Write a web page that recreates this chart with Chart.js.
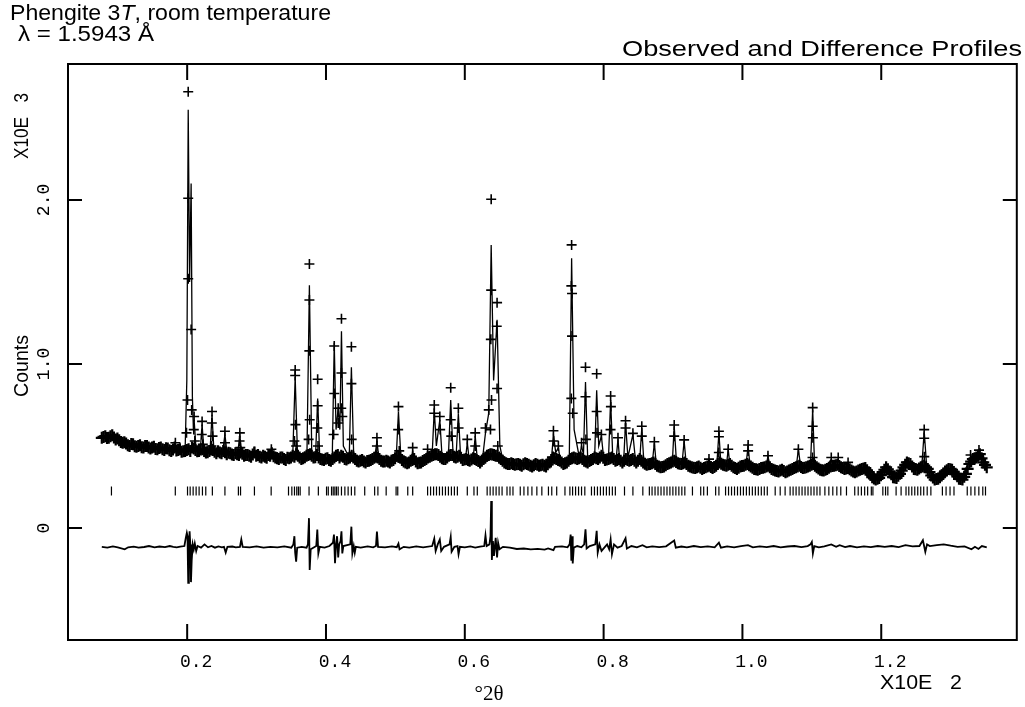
<!DOCTYPE html>
<html>
<head>
<meta charset="utf-8">
<script src="https://cdn.jsdelivr.net/npm/chart.js@4.4.0/dist/chart.umd.min.js"></script>
<style>
  html, body { margin: 0; padding: 0; background: #fff; }
  #wrap { width: 1025px; height: 707px; }
</style>
</head>
<body>
<div id="wrap"><canvas id="myChart" width="1025" height="707"></canvas></div>
<script>
// x in 10^2 deg 2theta, y in 10^3 counts
const xTicks = [0.2, 0.4, 0.6, 0.8, 1.0, 1.2];
const xTickLabels = ['0.2', '0.4', '0.6', '0.8', '1.0', '1.2'];
const yTicks = [0, 1, 2];
const yTickLabels = ['0', '1.0', '2.0'];

// observed points, background band
const observedBackground = [
  [0.077,0.55],[0.082,0.56],[0.087,0.55],[0.092,0.565],[0.097,0.54],[0.102,0.535],[0.107,0.52],[0.112,0.515],
  [0.117,0.50],[0.122,0.51],[0.127,0.495],[0.132,0.505],[0.137,0.49],[0.142,0.50],[0.147,0.485],[0.152,0.495],
  [0.157,0.48],[0.162,0.49],[0.167,0.475],[0.172,0.485],[0.177,0.47],[0.182,0.49],[0.187,0.475],[0.192,0.465],
  [0.197,0.47],[0.202,0.48],[0.207,0.49],[0.212,0.475],[0.217,0.47],[0.222,0.48],[0.227,0.46],[0.232,0.47],
  [0.237,0.475],[0.242,0.455],[0.247,0.46],[0.252,0.47],[0.257,0.45],[0.262,0.455],[0.267,0.445],[0.272,0.45],
  [0.277,0.46],[0.282,0.44],[0.287,0.445],[0.292,0.435],[0.297,0.46],[0.302,0.445],[0.307,0.43],[0.312,0.435],
  [0.317,0.445],[0.322,0.455],[0.327,0.43],[0.332,0.42],[0.337,0.43],[0.342,0.415],[0.347,0.425],[0.352,0.44],
  [0.357,0.45],[0.362,0.43],[0.367,0.425],[0.372,0.44],[0.377,0.45],[0.382,0.43],[0.387,0.445],[0.392,0.42],
  [0.397,0.415],[0.402,0.425],[0.407,0.41],[0.412,0.43],[0.417,0.445],[0.422,0.44],[0.427,0.42],[0.432,0.425],
  [0.437,0.44],[0.442,0.42],[0.447,0.405],[0.452,0.415],[0.457,0.40],[0.462,0.41],[0.467,0.42],[0.472,0.435],
  [0.477,0.42],[0.482,0.405],[0.487,0.41],[0.492,0.40],[0.497,0.415],[0.502,0.44],[0.507,0.43],[0.512,0.405],
  [0.517,0.395],[0.522,0.41],[0.527,0.42],[0.532,0.395],[0.537,0.40],[0.542,0.415],[0.547,0.43],[0.552,0.44],
  [0.557,0.45],[0.562,0.445],[0.567,0.425],[0.572,0.42],[0.577,0.44],[0.582,0.445],[0.587,0.43],[0.592,0.44],
  [0.597,0.415],[0.602,0.42],[0.607,0.41],[0.612,0.425],[0.617,0.415],[0.622,0.40],[0.627,0.42],[0.632,0.44],
  [0.637,0.45],[0.642,0.445],[0.647,0.44],[0.652,0.42],[0.657,0.40],[0.662,0.39],[0.667,0.395],[0.672,0.385],
  [0.677,0.39],[0.682,0.38],[0.687,0.395],[0.692,0.385],[0.697,0.375],[0.702,0.39],[0.707,0.38],[0.712,0.385],
  [0.717,0.375],[0.722,0.40],[0.727,0.43],[0.732,0.42],[0.737,0.41],[0.742,0.39],[0.747,0.40],[0.752,0.42],
  [0.757,0.43],[0.762,0.42],[0.767,0.43],[0.772,0.41],[0.777,0.40],[0.782,0.415],[0.787,0.43],[0.792,0.42],
  [0.797,0.44],[0.802,0.415],[0.807,0.42],[0.812,0.43],[0.817,0.41],[0.822,0.42],[0.827,0.40],[0.832,0.42],
  [0.837,0.41],[0.842,0.42],[0.847,0.40],[0.852,0.42],[0.857,0.40],[0.862,0.385],[0.867,0.39],[0.872,0.40],
  [0.877,0.38],[0.882,0.37],[0.887,0.375],[0.892,0.39],[0.897,0.40],[0.902,0.41],[0.907,0.395],[0.912,0.39],
  [0.917,0.40],[0.922,0.38],[0.927,0.37],[0.932,0.365],[0.937,0.375],[0.942,0.36],[0.947,0.37],[0.952,0.38],
  [0.957,0.365],[0.962,0.38],[0.967,0.40],[0.972,0.385],[0.977,0.38],[0.982,0.39],[0.987,0.37],[0.992,0.36],
  [0.997,0.375],[1.002,0.38],[1.007,0.39],[1.012,0.375],[1.017,0.36],[1.022,0.355],[1.027,0.365],[1.032,0.37],
  [1.037,0.38],[1.042,0.36],[1.047,0.35],[1.052,0.345],[1.057,0.355],[1.062,0.34],[1.067,0.35],[1.072,0.36],
  [1.077,0.37],[1.082,0.38],[1.087,0.365],[1.092,0.37],[1.097,0.38],[1.102,0.39],[1.107,0.37],[1.112,0.355],
  [1.117,0.35],[1.122,0.36],[1.127,0.375],[1.132,0.38],[1.137,0.385],[1.142,0.37],[1.147,0.36],[1.152,0.365],
  [1.157,0.35],[1.162,0.34],[1.167,0.35],[1.172,0.36],[1.177,0.365],[1.182,0.34],[1.187,0.31],[1.192,0.295],
  [1.197,0.305],[1.202,0.34],[1.207,0.37],[1.212,0.345],[1.217,0.31],[1.222,0.305],[1.227,0.33],[1.232,0.37],
  [1.237,0.40],[1.242,0.39],[1.247,0.36],[1.252,0.355],[1.257,0.37],[1.262,0.38],[1.267,0.36],[1.272,0.32],
  [1.277,0.295],[1.282,0.30],[1.287,0.32],[1.292,0.345],[1.297,0.36],[1.302,0.355],[1.307,0.33],[1.312,0.30],
  [1.317,0.295],[1.322,0.33],[1.327,0.39],[1.332,0.42],[1.337,0.43],[1.342,0.45],[1.347,0.40],[1.352,0.37]
];

// observed points in between, the band is dense
const observedBackground2 = [
  [0.0795,0.555],[0.0845,0.548],[0.0895,0.56],[0.0945,0.552],[0.0995,0.545],[0.1045,0.525],[0.1095,0.522],[0.1145,0.505],
  [0.1195,0.512],[0.1245,0.498],[0.1295,0.50],[0.1345,0.492],[0.1395,0.50],[0.1445,0.49],[0.1495,0.49],[0.1545,0.482],
  [0.1595,0.488],[0.1645,0.48],[0.1695,0.486],[0.1745,0.474],[0.1795,0.478],[0.1845,0.472],[0.1895,0.48],[0.1945,0.468],
  [0.1995,0.475],[0.2045,0.47],[0.2095,0.485],[0.2145,0.468],[0.2195,0.478],[0.2245,0.47],[0.2295,0.462],[0.2345,0.478],
  [0.2395,0.465],[0.2445,0.468],[0.2495,0.455],[0.2545,0.462],[0.2595,0.458],[0.2645,0.448],[0.2695,0.455],[0.2745,0.445],
  [0.2795,0.452],[0.2845,0.445],[0.2895,0.44],[0.2945,0.448],[0.2995,0.44],[0.3045,0.435],[0.3095,0.44],[0.3145,0.428],
  [0.3195,0.44],[0.3245,0.438],[0.3295,0.425],[0.3345,0.43],[0.3395,0.42],[0.3445,0.428],[0.3495,0.43],[0.3545,0.435],
  [0.3595,0.44],[0.3645,0.42],[0.3695,0.432],[0.3745,0.445],[0.3795,0.44],[0.3845,0.432],[0.3895,0.43],[0.3945,0.418],
  [0.3995,0.422],[0.4045,0.415],[0.4095,0.42],[0.4145,0.44],[0.4195,0.43],[0.4245,0.435],[0.4295,0.418],[0.4345,0.43],
  [0.4395,0.43],[0.4445,0.41],[0.4495,0.41],[0.4545,0.405],[0.4595,0.408],[0.4645,0.415],[0.4695,0.428],[0.4745,0.43],
  [0.4795,0.41],[0.4845,0.405],[0.4895,0.405],[0.4945,0.41],[0.4995,0.425],[0.5045,0.435],[0.5095,0.415],[0.5145,0.40],
  [0.5195,0.40],[0.5245,0.415],[0.5295,0.405],[0.5345,0.398],[0.5395,0.408],[0.5445,0.42],[0.5495,0.435],[0.5545,0.445],
  [0.5595,0.45],[0.5645,0.435],[0.5695,0.42],[0.5745,0.43],[0.5795,0.445],[0.5845,0.435],[0.5895,0.435],[0.5945,0.428],
  [0.5995,0.418],[0.6045,0.415],[0.6095,0.418],[0.6145,0.42],[0.6195,0.408],[0.6245,0.41],[0.6295,0.43],[0.6345,0.445],
  [0.6395,0.448],[0.6445,0.44],[0.6495,0.43],[0.6545,0.41],[0.6595,0.395],[0.6645,0.39],[0.6695,0.39],[0.6745,0.388],
  [0.6795,0.385],[0.6845,0.388],[0.6895,0.39],[0.6945,0.38],[0.6995,0.382],[0.7045,0.385],[0.7095,0.382],[0.7145,0.38],
  [0.7195,0.388],[0.7245,0.415],[0.7295,0.425],[0.7345,0.415],[0.7395,0.40],[0.7445,0.395],[0.7495,0.41],[0.7545,0.425],
  [0.7595,0.425],[0.7645,0.425],[0.7695,0.42],[0.7745,0.405],[0.7795,0.408],[0.7845,0.42],[0.7895,0.425],[0.7945,0.43],
  [0.7995,0.428],[0.8045,0.418],[0.8095,0.425],[0.8145,0.42],[0.8195,0.415],[0.8245,0.41],[0.8295,0.41],[0.8345,0.415],
  [0.8395,0.415],[0.8445,0.41],[0.8495,0.41],[0.8545,0.41],[0.8595,0.392],[0.8645,0.388],[0.8695,0.395],[0.8745,0.39],
  [0.8795,0.375],[0.8845,0.372],[0.8895,0.382],[0.8945,0.395],[0.8995,0.405],[0.9045,0.402],[0.9095,0.392],[0.9145,0.395],
  [0.9195,0.39],[0.9245,0.375],[0.9295,0.368],[0.9345,0.37],[0.9395,0.368],[0.9445,0.365],[0.9495,0.375],[0.9545,0.372],
  [0.9595,0.372],[0.9645,0.39],[0.9695,0.392],[0.9745,0.382],[0.9795,0.385],[0.9845,0.38],[0.9895,0.365],[0.9945,0.368],
  [0.9995,0.378],[1.0045,0.385],[1.0095,0.382],[1.0145,0.368],[1.0195,0.358],[1.0245,0.36],[1.0295,0.368],[1.0345,0.375],
  [1.0395,0.37],[1.0445,0.355],[1.0495,0.348],[1.0545,0.35],[1.0595,0.348],[1.0645,0.345],[1.0695,0.355],[1.0745,0.365],
  [1.0795,0.375],[1.0845,0.372],[1.0895,0.368],[1.0945,0.375],[1.0995,0.385],[1.1045,0.38],[1.1095,0.362],[1.1145,0.352],
  [1.1195,0.355],[1.1245,0.368],[1.1295,0.378],[1.1345,0.382],[1.1395,0.378],[1.1445,0.365],[1.1495,0.362],[1.1545,0.358],
  [1.1595,0.345],[1.1645,0.345],[1.1695,0.355],[1.1745,0.362],[1.1795,0.352],[1.1845,0.325],[1.1895,0.302],[1.1945,0.30],
  [1.1995,0.322],[1.2045,0.355],[1.2095,0.358],[1.2145,0.328],[1.2195,0.308],[1.2245,0.318],[1.2295,0.35],[1.2345,0.385],
  [1.2395,0.395],[1.2445,0.375],[1.2495,0.358],[1.2545,0.362],[1.2595,0.375],[1.2645,0.37],[1.2695,0.34],[1.2745,0.308],
  [1.2795,0.298],[1.2845,0.31],[1.2895,0.332],[1.2945,0.352],[1.2995,0.358],[1.3045,0.342],[1.3095,0.315],[1.3145,0.298],
  [1.3195,0.312],[1.3245,0.36],[1.3295,0.405],[1.3345,0.425],[1.3395,0.44],[1.3445,0.425],[1.3495,0.385]
];

// observed points on the peaks
const observedPeaks = [
  [0.183,0.52],
  [0.2015,2.66],[0.2015,2.01],[0.2015,1.52],[0.2057,1.21],[0.2005,0.78],[0.2065,0.72],[0.199,0.58],
  [0.210,0.68],[0.2095,0.60],[0.211,0.53],
  [0.2215,0.65],[0.221,0.57],[0.2225,0.51],
  [0.2358,0.71],[0.2355,0.64],[0.2365,0.56],[0.235,0.50],
  [0.2544,0.59],[0.2545,0.52],
  [0.2759,0.58],[0.2755,0.53],[0.2765,0.49],
  [0.2966,0.465],[0.3213,0.48],
  [0.3556,0.963],[0.3556,0.93],[0.356,0.63],[0.3545,0.53],[0.357,0.50],
  [0.3761,1.61],[0.3761,1.39],[0.376,1.08],[0.3765,0.66],[0.375,0.54],
  [0.388,0.907],[0.388,0.745],[0.3875,0.61],[0.3885,0.50],
  [0.4119,1.11],[0.412,0.82],[0.411,0.57],
  [0.4176,0.73],[0.4176,0.64],
  [0.4223,1.276],[0.4223,0.945],[0.422,0.73],[0.4235,0.68],
  [0.4366,1.105],[0.4366,0.88],[0.437,0.54],
  [0.4734,0.55],[0.4734,0.50],
  [0.5044,0.74],[0.504,0.60],[0.5055,0.47],
  [0.5249,0.49],[0.5464,0.48],
  [0.556,0.75],[0.556,0.70],
  [0.564,0.68],[0.5645,0.60],
  [0.5797,0.855],[0.5797,0.66],[0.5805,0.56],
  [0.5907,0.73],[0.591,0.61],
  [0.6036,0.54],
  [0.615,0.58],[0.615,0.50],
  [0.6298,0.61],[0.6345,0.72],
  [0.638,2.004],[0.638,1.45],[0.6375,1.15],[0.6385,0.78],[0.637,0.60],
  [0.6465,1.374],[0.646,1.23],[0.6465,0.85],[0.6475,0.50],
  [0.7277,0.593],[0.728,0.53],
  [0.7348,0.50],
  [0.7539,1.726],[0.7535,1.476],[0.7545,1.43],[0.7545,1.17],[0.7535,0.79],[0.7555,0.70],
  [0.7682,0.52],
  [0.7739,0.98],[0.7739,0.80],[0.7745,0.54],
  [0.790,0.94],[0.790,0.71],[0.7905,0.58],
  [0.7968,0.57],
  [0.8101,0.805],[0.8105,0.74],[0.810,0.60],
  [0.8207,0.55],
  [0.8316,0.654],[0.8316,0.61],
  [0.8422,0.577],
  [0.855,0.62],[0.855,0.56],
  [0.8731,0.526],
  [0.9017,0.628],[0.9017,0.56],
  [0.916,0.537],
  [0.9518,0.42],
  [0.9661,0.59],[0.9661,0.556],[0.966,0.46],
  [0.9795,0.48],
  [1.0082,0.506],[1.0082,0.47],
  [1.0368,0.44],
  [1.0806,0.48],
  [1.1012,0.734],[1.1012,0.62],[1.1015,0.55],[1.101,0.43],
  [1.128,0.43],[1.138,0.43],
  [1.1522,0.40],
  [1.176,0.366],
  [1.2619,0.60],[1.2619,0.547],[1.262,0.435],
  [1.3287,0.445],
  [1.3408,0.475],[1.3408,0.44]
];

// calculated profile
const calculated = [
  [0.077,0.55],[0.09,0.555],[0.11,0.515],[0.14,0.495],[0.17,0.48],[0.180,0.478],[0.183,0.51],[0.186,0.475],
  [0.197,0.47],[0.1995,0.9],[0.2015,2.55],[0.2035,1.5],[0.2057,2.1],[0.2075,0.8],[0.209,0.6],[0.210,0.66],
  [0.2125,0.5],[0.219,0.48],[0.2215,0.63],[0.224,0.48],[0.233,0.47],[0.2358,0.69],[0.2385,0.47],[0.251,0.46],
  [0.2544,0.57],[0.2575,0.455],[0.2725,0.45],[0.2759,0.56],[0.279,0.445],[0.294,0.44],[0.2966,0.46],[0.299,0.44],
  [0.318,0.435],[0.3213,0.47],[0.324,0.43],[0.352,0.425],[0.3556,0.92],[0.359,0.44],[0.3725,0.43],[0.3761,1.48],
  [0.3795,0.45],[0.385,0.44],[0.388,0.79],[0.391,0.43],[0.409,0.42],[0.4119,1.13],[0.4145,0.6],[0.4176,0.73],
  [0.420,0.6],[0.4223,1.2],[0.425,0.5],[0.4335,0.43],[0.4366,0.98],[0.44,0.43],[0.470,0.42],[0.4734,0.53],
  [0.4765,0.415],[0.501,0.41],[0.5044,0.71],[0.508,0.42],[0.522,0.40],[0.5249,0.47],[0.528,0.40],[0.543,0.41],
  [0.5464,0.47],[0.549,0.44],[0.553,0.45],[0.556,0.72],[0.559,0.5],[0.564,0.66],[0.567,0.45],[0.5765,0.45],
  [0.5797,0.78],[0.583,0.46],[0.5875,0.44],[0.5907,0.70],[0.594,0.43],[0.601,0.42],[0.6036,0.52],[0.6065,0.41],
  [0.612,0.42],[0.615,0.56],[0.618,0.42],[0.626,0.44],[0.6298,0.58],[0.6345,0.7],[0.638,1.726],[0.6415,0.9],
  [0.6465,1.27],[0.6505,0.5],[0.655,0.41],[0.67,0.39],[0.70,0.385],[0.7245,0.40],[0.7277,0.57],[0.731,0.46],
  [0.7348,0.49],[0.738,0.40],[0.7505,0.41],[0.7539,1.645],[0.7575,0.6],[0.765,0.43],[0.7682,0.5],[0.771,0.45],
  [0.7739,0.89],[0.777,0.43],[0.787,0.42],[0.790,0.84],[0.793,0.5],[0.7968,0.56],[0.800,0.43],[0.807,0.42],
  [0.8101,0.78],[0.813,0.45],[0.818,0.42],[0.8207,0.54],[0.823,0.42],[0.829,0.42],[0.8316,0.64],[0.835,0.43],
  [0.8422,0.57],[0.846,0.41],[0.852,0.41],[0.855,0.61],[0.858,0.40],[0.870,0.39],[0.8731,0.52],[0.876,0.38],
  [0.899,0.40],[0.9017,0.62],[0.905,0.40],[0.913,0.395],[0.916,0.53],[0.919,0.39],[0.9485,0.37],[0.9518,0.42],
  [0.955,0.37],[0.963,0.38],[0.9661,0.58],[0.969,0.39],[0.977,0.385],[0.9795,0.48],[0.982,0.38],[1.005,0.38],
  [1.0082,0.50],[1.011,0.375],[1.034,0.37],[1.0368,0.44],[1.04,0.36],[1.06,0.345],[1.0775,0.37],[1.0806,0.48],
  [1.084,0.37],[1.098,0.38],[1.1012,0.72],[1.104,0.38],[1.12,0.36],[1.128,0.42],[1.133,0.39],[1.138,0.42],
  [1.142,0.37],[1.1522,0.40],[1.156,0.35],[1.176,0.365],[1.19,0.30],[1.2073,0.37],[1.22,0.305],[1.238,0.40],
  [1.2585,0.38],[1.2619,0.59],[1.2655,0.37],[1.279,0.295],[1.30,0.36],[1.315,0.295],[1.3287,0.43],[1.334,0.40],
  [1.3408,0.46],[1.352,0.37]
];

// reflection marker positions
const reflections = [
  0.0909,0.1829,0.2005,0.2043,0.2086,0.2129,0.2172,0.222,0.2268,0.2363,0.2544,0.2738,0.2769,0.2969,0.321,
  0.346,0.3508,0.3546,0.3579,0.3603,0.3628,0.3756,0.389,0.4008,0.4033,0.408,0.4104,0.4128,0.4151,0.4176,
  0.4223,0.4272,0.4319,0.4366,0.4415,0.4558,0.4701,0.4748,0.4867,0.501,0.5034,0.5178,0.5249,
  0.5464,0.5507,0.555,0.5592,0.5635,0.5678,0.5721,0.5764,0.5807,0.585,0.5893,0.6036,0.6132,
  0.618,0.6322,0.6365,0.6408,0.6451,0.6494,0.6537,0.6608,0.6651,0.6694,0.6799,0.6852,0.6909,0.6967,0.7038,
  0.711,0.7205,0.7253,0.7324,0.7443,0.7514,0.7553,0.7596,0.7639,0.7682,0.7729,0.7825,0.7868,0.7911,0.7954,
  0.7997,0.804,0.8083,0.8126,0.8169,0.8301,0.8422,0.8565,0.8659,0.8698,0.8741,0.8784,0.8827,0.887,0.8913,
  0.8955,0.8998,0.9041,0.9084,0.9127,0.917,0.928,0.9399,0.9442,0.9495,0.9614,0.9661,0.9757,0.98,0.9843,
  0.9886,0.9929,0.9972,1.0014,1.0057,1.01,1.0143,1.0186,1.0229,1.0272,1.0315,1.0358,1.0472,1.0544,1.0615,
  1.0687,1.073,1.0773,1.0816,1.0859,1.0902,1.0945,1.0988,1.1031,1.1074,1.1117,1.1188,1.1245,1.1302,1.136,
  1.1417,1.1499,1.1618,1.1668,1.1714,1.1761,1.1804,1.1857,1.188,1.2023,1.2062,1.2095,1.2214,1.2286,1.2357,
  1.2397,1.244,1.2483,1.2526,1.2569,1.2612,1.2662,1.2715,1.2881,1.2934,1.2991,1.3048,1.3239,1.3292,1.3349,
  1.3406,1.3463,1.3502
];
const reflectionLevel = 0.226;

// observed minus calculated, drawn with an offset
const difference = [
  [0.077,-0.115],[0.085,-0.12],[0.093,-0.112],[0.1,-0.118],[0.11,-0.13],[0.115,-0.118],[0.123,-0.114],[0.13,-0.12],
  [0.138,-0.116],[0.145,-0.11],[0.153,-0.118],[0.16,-0.113],[0.168,-0.117],[0.175,-0.11],[0.18,-0.115],[0.185,-0.118],
  [0.19,-0.114],[0.196,-0.11],[0.198,-0.06],[0.1995,-0.03],[0.2005,-0.05],[0.201,-0.2],[0.2015,-0.335],[0.2025,-0.12],
  [0.2035,-0.02],[0.2045,-0.1],[0.2055,-0.33],[0.2065,-0.2],[0.208,-0.1],[0.2095,-0.13],[0.211,-0.095],[0.213,-0.14],
  [0.215,-0.11],[0.22,-0.12],[0.225,-0.1],[0.23,-0.118],[0.235,-0.11],[0.24,-0.12],[0.245,-0.112],[0.25,-0.118],
  [0.253,-0.115],[0.2555,-0.15],[0.258,-0.115],[0.265,-0.113],[0.27,-0.118],[0.276,-0.115],[0.278,-0.07],[0.28,-0.115],
  [0.29,-0.118],[0.3,-0.112],[0.31,-0.12],[0.32,-0.115],[0.33,-0.118],[0.34,-0.112],[0.35,-0.12],
  [0.353,-0.1],[0.3545,-0.05],[0.3556,-0.15],[0.357,-0.205],[0.3585,-0.12],[0.365,-0.115],[0.372,-0.12],
  [0.374,-0.1],[0.3755,0.06],[0.3765,-0.256],[0.378,-0.13],[0.386,-0.11],[0.3875,-0.01],[0.389,-0.155],[0.391,-0.115],
  [0.398,-0.12],[0.405,-0.11],[0.41,-0.09],[0.4115,-0.04],[0.413,-0.215],[0.4145,-0.1],[0.416,-0.05],[0.4176,-0.18],
  [0.419,-0.1],[0.421,-0.08],[0.4223,-0.02],[0.4235,-0.155],[0.425,-0.11],[0.435,-0.1],[0.4366,0.008],[0.438,-0.155],
  [0.44,-0.11],[0.4415,-0.15],[0.443,-0.115],[0.45,-0.12],[0.46,-0.112],[0.468,-0.118],[0.472,-0.11],[0.4734,-0.022],
  [0.475,-0.115],[0.485,-0.118],[0.495,-0.112],[0.502,-0.117],[0.5044,-0.095],[0.506,-0.13],[0.512,-0.115],[0.52,-0.12],
  [0.53,-0.112],[0.54,-0.118],[0.553,-0.11],[0.556,-0.065],[0.558,-0.14],[0.561,-0.1],[0.564,-0.07],[0.566,-0.14],
  [0.57,-0.115],[0.578,-0.1],[0.5797,-0.055],[0.581,-0.145],[0.585,-0.115],[0.5895,-0.11],[0.591,-0.16],[0.593,-0.115],
  [0.6,-0.118],[0.608,-0.112],[0.615,-0.12],[0.622,-0.113],[0.628,-0.11],[0.6298,-0.045],[0.6315,-0.11],
  [0.6355,-0.1],[0.637,-0.05],[0.638,0.165],[0.639,-0.195],[0.6405,-0.08],[0.642,-0.17],[0.6445,-0.06],[0.6465,-0.18],
  [0.648,-0.09],[0.65,-0.13],[0.655,-0.115],[0.665,-0.12],[0.675,-0.128],[0.685,-0.125],[0.695,-0.13],[0.705,-0.127],
  [0.715,-0.132],[0.72,-0.125],[0.7277,-0.135],[0.73,-0.115],[0.74,-0.112],[0.748,-0.118],
  [0.751,-0.1],[0.7525,-0.04],[0.7535,-0.2],[0.7545,-0.05],[0.7555,-0.216],[0.757,-0.12],[0.762,-0.11],[0.768,-0.118],
  [0.772,-0.1],[0.7739,-0.008],[0.7755,-0.125],[0.78,-0.11],[0.788,-0.1],[0.790,-0.017],[0.7915,-0.15],[0.794,-0.1],
  [0.797,-0.14],[0.805,-0.1],[0.808,-0.13],[0.8101,-0.07],[0.812,-0.16],[0.815,-0.1],[0.82,-0.12],[0.826,-0.11],
  [0.8316,-0.063],[0.8335,-0.125],[0.84,-0.11],[0.848,-0.118],[0.856,-0.105],[0.862,-0.118],[0.87,-0.112],[0.88,-0.117],
  [0.89,-0.112],[0.9017,-0.077],[0.904,-0.12],[0.912,-0.113],[0.92,-0.118],[0.93,-0.11],[0.94,-0.117],[0.95,-0.112],
  [0.96,-0.118],[0.9661,-0.09],[0.969,-0.12],[0.978,-0.112],[0.988,-0.118],[0.998,-0.11],[1.008,-0.105],[1.015,-0.118],
  [1.025,-0.112],[1.035,-0.117],[1.045,-0.11],[1.055,-0.118],[1.065,-0.113],[1.075,-0.11],[1.085,-0.117],[1.094,-0.11],
  [1.098,-0.1],[1.1,-0.085],[1.1015,-0.155],[1.1035,-0.11],[1.11,-0.118],[1.118,-0.112],[1.128,-0.1],[1.135,-0.115],
  [1.14,-0.105],[1.148,-0.117],[1.155,-0.11],[1.165,-0.118],[1.175,-0.112],[1.185,-0.117],[1.195,-0.11],[1.205,-0.115],
  [1.215,-0.11],[1.225,-0.117],[1.235,-0.105],[1.245,-0.112],[1.255,-0.11],[1.26,-0.075],[1.2635,-0.145],[1.266,-0.1],
  [1.27,-0.11],[1.28,-0.105],[1.29,-0.1],[1.3,-0.108],[1.31,-0.115],[1.32,-0.112],[1.33,-0.13],[1.335,-0.115],
  [1.34,-0.128],[1.345,-0.11],[1.352,-0.118]
];

function fitText(c, text, x, y, width, font, align) {
  c.font = font;
  const k = width / c.measureText(text).width;
  c.save();
  c.translate(x, y);
  c.scale(k, 1);
  c.textAlign = align;
  c.fillText(text, 0, 0);
  c.restore();
}

const frame = {
  id: 'frame',
  afterDraw(chart) {
    const c = chart.ctx, a = chart.chartArea;
    const xs = chart.scales.x, ys = chart.scales.y;
    c.save();
    c.strokeStyle = '#000';
    c.fillStyle = '#000';
    c.lineWidth = 2;
    c.strokeRect(a.left, a.top, a.right - a.left, a.bottom - a.top);
    c.beginPath();
    xTicks.forEach(v => {
      const px = xs.getPixelForValue(v);
      c.moveTo(px, a.bottom); c.lineTo(px, a.bottom - 16);
      c.moveTo(px, a.top); c.lineTo(px, a.top + 16);
    });
    yTicks.forEach(v => {
      const py = ys.getPixelForValue(v);
      c.moveTo(a.left, py); c.lineTo(a.left + 14, py);
      c.moveTo(a.right, py); c.lineTo(a.right - 14, py);
    });
    c.stroke();

    c.textBaseline = 'alphabetic';
    c.textAlign = 'center';
    c.font = '18px "Liberation Mono"';
    xTicks.forEach((v, i) => c.fillText(xTickLabels[i], xs.getPixelForValue(v) + 9, a.bottom + 27));
    yTicks.forEach((v, i) => {
      c.save();
      c.translate(a.left - 19, ys.getPixelForValue(v));
      c.rotate(-Math.PI / 2);
      c.fillText(yTickLabels[i], 0, 0);
      c.restore();
    });

    // axis captions
    c.save();
    c.translate(28, 366);
    c.rotate(-Math.PI / 2);
    fitText(c, 'Counts', 0, 0, 62, '21px "Liberation Sans"', 'center');
    c.restore();
    c.save();
    c.translate(28, 126);
    c.rotate(-Math.PI / 2);
    fitText(c, 'X10E   3', 0, 0, 66, '21px "Liberation Sans"', 'center');
    c.restore();
    fitText(c, 'X10E   2', 880, 689, 82, '21px "Liberation Sans"', 'left');
    c.font = '21px "Liberation Serif"';
    c.textAlign = 'center';
    c.fillText('\u00b02\u03b8', 489, 700);

    // titles
    c.textAlign = 'left';
    const runs = [['Phengite 3', ''], ['T', 'italic '], [', room temperature', '']];
    let tw = 0;
    runs.forEach(r => { c.font = r[1] + '22px "Liberation Sans"'; tw += c.measureText(r[0]).width; });
    const k = 321 / tw;
    c.save();
    c.translate(10, 20);
    c.scale(k, 1);
    let cx = 0;
    runs.forEach(r => { c.font = r[1] + '22px "Liberation Sans"'; c.fillText(r[0], cx, 0); cx += c.measureText(r[0]).width; });
    c.restore();
    fitText(c, '\u03bb = 1.5943 \u00c5', 18, 41, 136, '22px "Liberation Sans"', 'left');
    fitText(c, 'Observed and Difference Profiles', 1022, 56, 400, '22px "Liberation Sans"', 'right');
    c.restore();
  }
};

const ctx = document.getElementById('myChart').getContext('2d');
const myChart = new Chart(ctx, {
  type: 'scatter',
  data: {
    datasets: [
      {
        label: 'Calculated',
        type: 'line',
        data: calculated,
        borderColor: '#000',
        borderWidth: 1.3,
        pointRadius: 0,
        tension: 0
      },
      {
        label: 'Observed background',
        data: observedBackground.concat(observedBackground2),
        pointStyle: 'cross',
        pointRadius: 6,
        borderColor: '#000',
        borderWidth: 2.2
      },
      {
        label: 'Observed peaks',
        data: observedPeaks,
        pointStyle: 'cross',
        pointRadius: 5,
        borderColor: '#000',
        borderWidth: 1.6
      },
      {
        label: 'Reflections',
        data: reflections.map(x => [x, reflectionLevel]),
        pointStyle: 'line',
        rotation: 90,
        pointRadius: 4.5,
        borderColor: '#000',
        borderWidth: 1.2
      },
      {
        label: 'Difference',
        type: 'line',
        data: difference,
        borderColor: '#000',
        borderWidth: 1.8,
        pointRadius: 0,
        tension: 0
      }
    ]
  },
  options: {
    responsive: false,
    animation: false,
    devicePixelRatio: 1,
    layout: { padding: { left: 68, top: 64, right: 2, bottom: 67 } },
    plugins: { legend: { display: false }, tooltip: { enabled: false } },
    scales: {
      x: { type: 'linear', min: 0.0283, max: 1.3953, display: false },
      y: { type: 'linear', min: -0.683, max: 2.829, display: false }
    }
  },
  plugins: [frame]
});
</script>
</body>
</html>
